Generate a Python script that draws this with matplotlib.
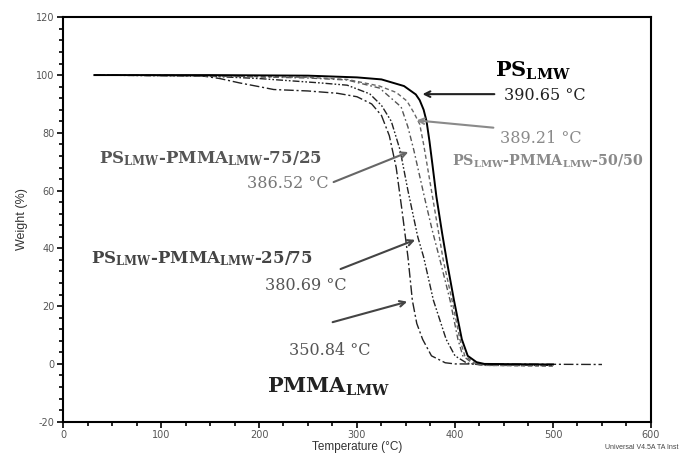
import matplotlib
matplotlib.use('Agg')

import matplotlib.pyplot as plt
import numpy as np

# TGA curves (temperature in C, weight in %)
ps_temp = [32, 150, 250, 300, 325, 348, 360, 364, 368, 371, 374, 377, 381, 387, 392, 399, 407, 413, 422, 430, 500]
ps_weight = [100, 100, 99.8, 99.2, 98.5, 96.2, 93.3, 91.3, 88, 84, 77, 69, 58, 45, 35, 22, 8.5, 2.8, 0.6, 0, -0.2]

b5050_temp = [32, 150, 250, 290, 323, 340, 351, 358, 364, 368, 375, 382, 388, 397, 405, 410, 420, 430, 500]
b5050_weight = [100, 99.8, 99.2, 98.5, 96.2, 94, 91, 87, 83, 76, 62, 48, 36, 22, 8.5, 2.8, 0.3, -0.5, -0.8]

b7525_temp = [32, 150, 250, 290, 323, 345, 352, 358, 364, 370, 377, 385, 395, 403, 408, 418, 430, 500]
b7525_weight = [100, 99.7, 99, 98.3, 95.5, 89, 82, 74, 65, 56, 46, 35.6, 22, 8.5, 2.8, 0.2, -0.5, -0.6]

b2575_temp = [32, 150, 200, 262, 290, 313, 325, 335, 344, 352, 362, 368, 378, 391, 400, 412, 425, 500]
b2575_weight = [100, 99.6, 98.8, 97.3, 96.5, 93.5, 89.5, 84, 74, 60, 44, 37, 22, 8.5, 2.8, 0.3, -0.3, -0.5]

pmma_temp = [32, 140, 160, 180, 200, 215, 250, 280, 300, 315, 325, 333, 340, 346, 352, 356.5, 361, 367, 376, 390, 400, 550]
pmma_weight = [100, 99.8, 98.8, 97.3, 96, 95, 94.5, 93.7, 92.5, 90, 86, 79, 68, 53, 37, 22, 14, 8.5, 2.8, 0.4, 0, -0.2]

plt.rcParams['mathtext.fontset'] = 'custom'
plt.rcParams['mathtext.rm'] = 'DejaVu Serif'
plt.rcParams['mathtext.bf'] = 'DejaVu Serif:bold'
plt.rcParams['axes.unicode_minus'] = False

fig = plt.figure(figsize=(6.82, 4.58), dpi=100)
ax = fig.add_axes([0.0924, 0.0793, 0.8621, 0.8829])

ax.plot(pmma_temp, pmma_weight, color='#222222', lw=1.0, dashes=[7, 2, 1.5, 2])
ax.plot(b2575_temp, b2575_weight, color='#222222', lw=1.0, dashes=[5, 1.5, 1.2, 1.5, 1.2, 1.5])
ax.plot(b7525_temp, b7525_weight, color='#555555', lw=1.0, dashes=[4, 2, 1.2, 2])
ax.plot(b5050_temp, b5050_weight, color='#666666', lw=1.0, dashes=[3, 2])
ax.plot(ps_temp, ps_weight, color='black', lw=1.4)

ax.set_xlim(0, 600)
ax.set_ylim(-20, 120)
ax.set_xticks(np.arange(0, 601, 100))
ax.set_yticks(np.arange(-20, 121, 20))
ax.set_xticks(np.arange(0, 601, 25), minor=True)
ax.set_yticks(np.arange(-20, 121, 4), minor=True)
ax.tick_params(which='both', direction='out', width=1.2, labelsize=7, labelcolor='#555555',
               top=False, right=False, pad=2)
ax.tick_params(which='major', length=4)
ax.tick_params(which='minor', length=3)
for s in ax.spines.values():
    s.set_linewidth(1.5)

ax.set_xlabel('Temperature (°C)', fontsize=8.5, color='#333333', family='Liberation Sans', labelpad=1)
ax.set_ylabel('Weight (%)', fontsize=9, color='#333333', family='Liberation Sans', labelpad=6)
fig.text(0.995, 0.024, 'Universal V4.5A TA Inst', ha='right', va='center', fontsize=5, color='#444444',
         family='Liberation Sans')

serif = 'DejaVu Serif'
# labels and arrows
ax.text(480, 101.5, r'$\mathbf{PS_{LMW}}$', fontsize=15, ha='center', va='center', color='black')
ax.text(492, 93, '390.65 °C', fontsize=11.5, ha='center', va='center', color='#222222', family=serif)
ax.annotate('', xy=(364, 93.4), xytext=(443, 93.4),
            arrowprops=dict(arrowstyle='->', color='#222222', lw=1.5))

ax.text(488, 78.2, '389.21 °C', fontsize=11.5, ha='center', va='center', color='#8a8a8a', family=serif)
ax.annotate('', xy=(358, 84.4), xytext=(442, 81.7),
            arrowprops=dict(arrowstyle='->', color='#8a8a8a', lw=1.5))
ax.text(495, 70, r'$\mathbf{PS_{LMW}}$-$\mathbf{PMMA_{LMW}}$-50/50', fontsize=10.3, ha='center',
        va='center', color='#8a8a8a', family=serif, fontweight='bold')

ax.text(151, 71, r'$\mathbf{PS_{LMW}}$-$\mathbf{PMMA_{LMW}}$-75/25', fontsize=12, ha='center',
        va='center', color='#555555', family=serif, fontweight='bold')
ax.text(229, 62.3, '386.52 °C', fontsize=11.5, ha='center', va='center', color='#777777', family=serif)
ax.annotate('', xy=(355, 73.7), xytext=(273.5, 62.6),
            arrowprops=dict(arrowstyle='->', color='#666666', lw=1.5))

ax.text(142, 36.3, r'$\mathbf{PS_{LMW}}$-$\mathbf{PMMA_{LMW}}$-25/75', fontsize=12, ha='center',
        va='center', color='#444444', family=serif, fontweight='bold')
ax.text(248, 27, '380.69 °C', fontsize=11.5, ha='center', va='center', color='#555555', family=serif)
ax.annotate('', xy=(362, 43.3), xytext=(280.6, 32.5),
            arrowprops=dict(arrowstyle='->', color='#444444', lw=1.5))

ax.text(272, 4.5, '350.84 °C', fontsize=11.5, ha='center', va='center', color='#555555', family=serif)
ax.annotate('', xy=(354, 21.8), xytext=(272.4, 14.2),
            arrowprops=dict(arrowstyle='->', color='#444444', lw=1.5))
ax.text(271, -8, r'$\mathbf{PMMA_{LMW}}$', fontsize=15, ha='center', va='center', color='#222222')

plt.savefig('out.png', dpi=100)
